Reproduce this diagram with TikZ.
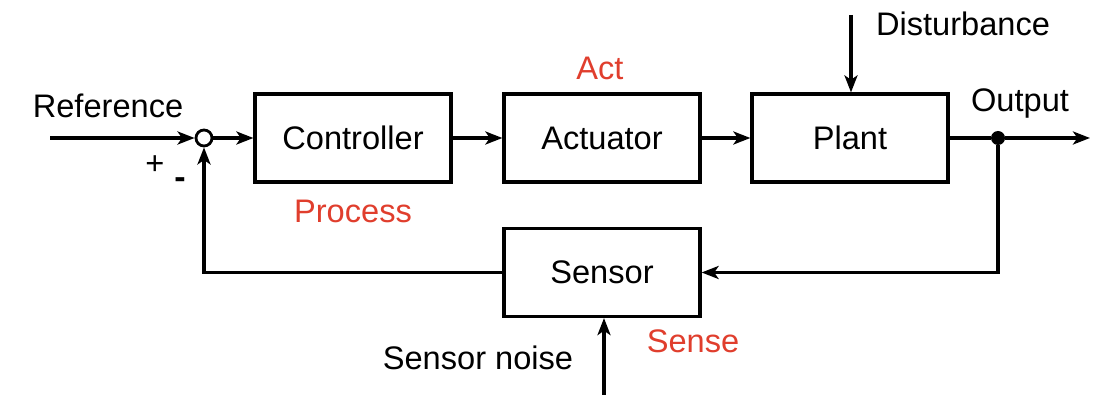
\documentclass[tikz,border=0pt]{standalone}
\usepackage{fontspec}
\setmainfont{Liberation Sans}
\usetikzlibrary{shapes,arrows.meta,positioning}
\definecolor{actred}{RGB}{224,62,45}

\tikzset{
	block/.style={draw, line width=1.6pt, minimum width=98pt, minimum height=44pt, inner sep=0pt},
	sumnode/.style={draw, circle, line width=1.4pt, minimum size=8pt, inner sep=0pt},
	junction/.style={fill, circle, minimum size=7pt, inner sep=0pt},
	wire/.style={line width=1.6pt},
	txt/.style={font=\fontsize{16.3}{18}\selectfont, inner sep=0pt},
	redtxt/.style={txt, text=actred}
}

\begin{document}
\begin{tikzpicture}[x=0.5pt, y=-0.5pt, >={Stealth[length=8.5pt, width=6.5pt, inset=2.2pt]}]
\useasboundingbox (0,0) rectangle (1104,406);

% blocks of the loop
\node[block, txt] (controller) at (353,138) {Controller};
\node[block, txt] (actuator) at (602,138) {Actuator};
\node[block, txt] (plant) at (850,138) {Plant};
\node[block, txt] (sensor) at (602,272.5) {Sensor};
\node[sumnode] (sum) at (204,138) {};
\node[junction] (tap) at (998,138) {};

% free ends
\coordinate (refin) at (50,138);
\coordinate (outend) at (1090,138);
\coordinate (distin) at (851,15);
\coordinate (noisein) at (604,395);

% texts
\node[txt] (reftext) at (108,106) {Reference};
\node[txt] (disttext) at (963,24) {Disturbance};
\node[txt] (outtext) at (1020,104) {Output};
\node[txt] (noisetext) at (478,358) {Sensor noise};
\node[txt] (plus) at (155,165) {+};
\node[txt, font=\fontsize{17}{18}\bfseries] (minus) at (180,183) {-};
\node[redtxt] (acttext) at (600,68) {Act};
\node[redtxt] (proctext) at (353,211) {Process};
\node[redtxt] (sensetext) at (693,341) {Sense};

% connectors
\draw[wire, ->] (refin) -- (sum);
\draw[wire, ->] (sum) -- (controller);
\draw[wire, ->] (controller) -- (actuator);
\draw[wire, ->] (actuator) -- (plant);
\draw[wire] (plant) -- (tap);
\draw[wire, ->] (tap) -- (outend);
\draw[wire, ->] (distin) -- (distin |- plant.north);
\draw[wire, ->] (tap) |- (sensor.east);
\draw[wire, ->] (sensor.west) -| (sum.south);
\draw[wire, ->] (noisein) -- (noisein |- sensor.south);

\end{tikzpicture}
\end{document}
